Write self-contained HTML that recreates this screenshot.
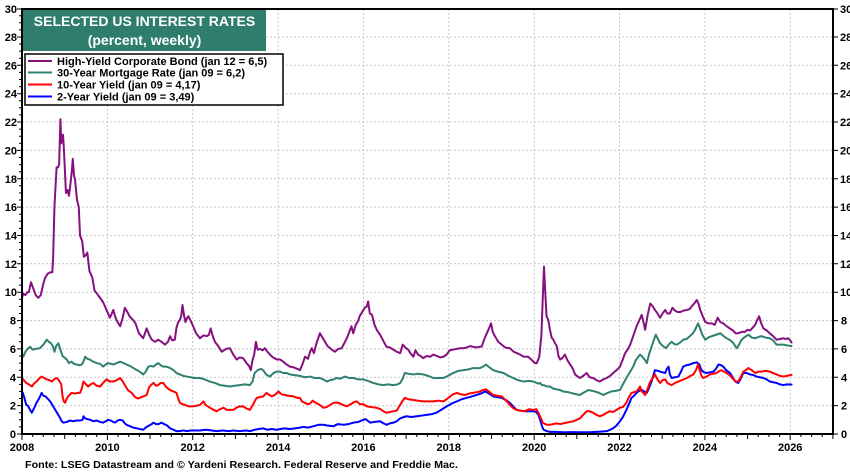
<!DOCTYPE html>
<html><head><meta charset="utf-8"><style>
html,body{margin:0;padding:0;background:#fff;}
svg{display:block;}
text{font-family:"Liberation Sans",Arial,sans-serif;font-weight:bold;}
</style></head><body>
<svg width="850" height="473" viewBox="0 0 850 473" xmlns="http://www.w3.org/2000/svg">
<rect width="850" height="473" fill="#fff"/>
<!-- grid -->
<g stroke="#c8c8c8" stroke-width="1" stroke-dasharray="2,2" fill="none">
<line x1="22" x2="833" y1="405.6" y2="405.6"/><line x1="22" x2="833" y1="377.3" y2="377.3"/><line x1="22" x2="833" y1="348.9" y2="348.9"/><line x1="22" x2="833" y1="320.6" y2="320.6"/><line x1="22" x2="833" y1="292.2" y2="292.2"/><line x1="22" x2="833" y1="263.8" y2="263.8"/><line x1="22" x2="833" y1="235.5" y2="235.5"/><line x1="22" x2="833" y1="207.1" y2="207.1"/><line x1="22" x2="833" y1="178.8" y2="178.8"/><line x1="22" x2="833" y1="150.4" y2="150.4"/><line x1="22" x2="833" y1="122.0" y2="122.0"/><line x1="22" x2="833" y1="93.7" y2="93.7"/><line x1="22" x2="833" y1="65.3" y2="65.3"/><line x1="22" x2="833" y1="37.0" y2="37.0"/>
<line y1="9" y2="434" x1="107.4" x2="107.4"/><line y1="9" y2="434" x1="192.7" x2="192.7"/><line y1="9" y2="434" x1="278.1" x2="278.1"/><line y1="9" y2="434" x1="363.4" x2="363.4"/><line y1="9" y2="434" x1="448.8" x2="448.8"/><line y1="9" y2="434" x1="534.2" x2="534.2"/><line y1="9" y2="434" x1="619.5" x2="619.5"/><line y1="9" y2="434" x1="704.9" x2="704.9"/><line y1="9" y2="434" x1="790.2" x2="790.2"/>
</g>
<!-- series -->
<g transform="matrix(42.68 0 0 -14.18 22 434)" fill="none" stroke-linejoin="round" stroke-linecap="round">
<polyline vector-effect="non-scaling-stroke" stroke="#0000ff" stroke-width="2" points="0,3.0 0.02,2.9 0.06,2.5 0.10,2.05 0.14,2.0 0.19,1.7 0.23,1.5 0.28,1.8 0.34,2.2 0.40,2.5 0.46,2.9 0.50,2.7 0.55,2.65 0.60,2.5 0.66,2.3 0.72,2.0 0.78,1.7 0.84,1.4 0.88,1.2 0.93,0.9 0.97,0.8 1.05,0.85 1.12,0.95 1.20,0.9 1.28,0.95 1.36,0.95 1.42,1.0 1.44,1.25 1.48,1.1 1.53,1.05 1.60,1.0 1.67,0.9 1.75,0.95 1.83,0.85 1.90,0.8 1.96,0.9 2.02,1.0 2.08,0.95 2.14,0.85 2.18,0.8 2.24,0.95 2.30,1.0 2.36,0.95 2.41,0.75 2.45,0.65 2.53,0.55 2.61,0.45 2.69,0.4 2.76,0.35 2.84,0.3 2.92,0.5 2.98,0.6 3.04,0.7 3.08,0.8 3.14,0.7 3.20,0.7 3.27,0.8 3.33,0.7 3.40,0.6 3.47,0.4 3.55,0.3 3.62,0.2 3.70,0.2 3.78,0.25 3.86,0.2 3.95,0.25 4.05,0.25 4.17,0.25 4.30,0.3 4.45,0.25 4.56,0.2 4.70,0.25 4.85,0.2 4.95,0.25 5.10,0.2 5.25,0.25 5.34,0.2 5.45,0.3 5.55,0.35 5.65,0.4 5.75,0.3 5.85,0.35 5.97,0.3 6.05,0.35 6.15,0.4 6.28,0.35 6.40,0.4 6.51,0.45 6.60,0.5 6.70,0.45 6.83,0.55 6.95,0.65 7.06,0.65 7.15,0.6 7.30,0.55 7.40,0.7 7.53,0.65 7.65,0.7 7.76,0.8 7.88,0.85 7.996,1.0 8.05,1.05 8.16,0.8 8.25,0.85 8.39,0.9 8.47,0.75 8.54,0.65 8.62,0.75 8.70,0.8 8.78,0.9 8.86,1.1 8.95,1.2 9.01,1.25 9.12,1.2 9.25,1.25 9.37,1.3 9.48,1.35 9.60,1.4 9.71,1.5 9.82,1.7 9.95,1.95 10.07,2.15 10.19,2.3 10.30,2.45 10.42,2.55 10.54,2.65 10.65,2.75 10.75,2.85 10.85,3.0 10.92,2.9 11.04,2.65 11.14,2.6 11.24,2.55 11.33,2.4 11.43,2.2 11.52,1.9 11.59,1.7 11.67,1.65 11.78,1.6 11.88,1.6 11.98,1.6 12.05,1.55 12.10,1.35 12.15,0.9 12.19,0.5 12.22,0.3 12.30,0.2 12.37,0.15 12.50,0.15 12.70,0.12 12.90,0.13 13.10,0.12 13.30,0.12 13.45,0.15 13.60,0.18 13.70,0.2 13.78,0.3 13.85,0.4 13.93,0.6 14.01,0.9 14.08,1.2 14.16,1.7 14.22,2.1 14.28,2.55 14.34,2.7 14.40,2.9 14.46,3.05 14.52,3.1 14.58,3.0 14.64,2.9 14.70,3.3 14.75,3.7 14.80,4.2 14.83,4.5 14.90,4.45 14.95,4.4 15.01,4.35 15.07,4.3 15.11,4.6 15.15,4.75 15.18,4.2 15.22,3.95 15.30,4.0 15.38,4.05 15.44,4.4 15.49,4.75 15.57,4.85 15.65,4.9 15.73,5.0 15.81,5.05 15.87,4.9 15.92,4.5 15.98,4.35 16.04,4.3 16.12,4.35 16.20,4.4 16.26,4.6 16.32,4.9 16.38,4.85 16.43,4.75 16.50,4.5 16.59,4.3 16.66,3.95 16.71,3.7 16.78,3.6 16.84,3.9 16.90,4.3 16.98,4.3 17.06,4.2 17.14,4.15 17.21,4.05 17.29,4.0 17.37,3.95 17.45,3.85 17.52,3.7 17.60,3.65 17.68,3.6 17.76,3.5 17.84,3.45 17.92,3.5 18.03,3.49"/>
<polyline vector-effect="non-scaling-stroke" stroke="#ff0000" stroke-width="2" points="0,3.95 0.04,3.8 0.10,3.6 0.16,3.5 0.23,3.35 0.28,3.55 0.34,3.7 0.40,3.9 0.46,4.05 0.52,3.95 0.58,3.85 0.64,3.8 0.70,3.7 0.75,3.85 0.81,3.95 0.85,3.85 0.88,3.7 0.92,3.5 0.95,2.65 0.98,2.3 1.01,2.2 1.05,2.5 1.08,2.65 1.16,2.9 1.24,2.85 1.30,2.9 1.36,2.9 1.40,3.2 1.44,3.7 1.50,3.5 1.55,3.35 1.61,3.5 1.67,3.6 1.75,3.4 1.83,3.35 1.90,3.6 1.98,3.85 2.06,3.7 2.14,3.7 2.22,3.8 2.30,3.95 2.36,3.7 2.41,3.45 2.48,3.1 2.57,2.9 2.65,2.6 2.72,2.5 2.76,2.55 2.84,2.65 2.92,2.75 2.98,3.3 3.04,3.5 3.08,3.6 3.14,3.4 3.19,3.45 3.25,3.6 3.31,3.6 3.38,3.3 3.47,3.1 3.55,3.0 3.62,2.9 3.66,2.5 3.70,2.2 3.76,2.1 3.82,2.05 3.90,1.95 4.01,1.95 4.10,2.0 4.17,2.05 4.22,2.2 4.25,2.3 4.30,2.05 4.38,1.9 4.46,1.75 4.56,1.6 4.64,1.75 4.72,1.85 4.80,1.7 4.88,1.7 4.95,1.7 5.02,1.85 5.10,1.95 5.18,1.95 5.26,1.8 5.34,1.7 5.40,2.0 5.45,2.3 5.50,2.55 5.57,2.6 5.65,2.65 5.73,2.9 5.80,2.75 5.85,2.65 5.92,2.75 6.01,3.0 6.08,2.8 6.16,2.75 6.24,2.7 6.36,2.65 6.45,2.55 6.51,2.55 6.56,2.3 6.62,2.2 6.70,2.1 6.75,2.15 6.81,2.35 6.88,2.2 6.95,2.1 7.02,1.95 7.06,1.85 7.14,1.9 7.22,2.05 7.30,2.2 7.41,2.2 7.52,2.05 7.61,1.95 7.70,2.1 7.78,2.25 7.84,2.3 7.92,2.1 8.0,2.1 8.08,1.95 8.18,1.9 8.31,1.85 8.40,1.75 8.47,1.6 8.54,1.5 8.62,1.55 8.70,1.6 8.78,1.65 8.86,2.05 8.92,2.35 8.97,2.55 9.05,2.45 9.17,2.4 9.28,2.35 9.40,2.3 9.52,2.3 9.64,2.3 9.76,2.35 9.87,2.3 9.95,2.45 10.03,2.65 10.10,2.8 10.19,2.9 10.28,2.8 10.38,2.75 10.47,2.85 10.57,2.9 10.65,2.95 10.73,3.0 10.80,3.1 10.87,3.15 10.94,3.0 11.04,2.75 11.14,2.7 11.24,2.65 11.33,2.4 11.43,2.05 11.52,1.8 11.59,1.7 11.67,1.65 11.78,1.6 11.88,1.75 11.98,1.7 12.05,1.75 12.10,1.5 12.16,1.1 12.20,0.8 12.26,0.7 12.30,0.65 12.37,0.65 12.45,0.7 12.53,0.75 12.61,0.7 12.68,0.75 12.76,0.8 12.84,0.85 12.92,0.9 13.00,1.0 13.07,1.1 13.15,1.35 13.23,1.6 13.30,1.6 13.38,1.5 13.46,1.35 13.54,1.25 13.62,1.35 13.70,1.5 13.77,1.6 13.85,1.55 13.93,1.7 14.01,1.85 14.08,1.9 14.16,2.2 14.22,2.6 14.28,2.9 14.34,2.95 14.40,3.0 14.45,3.2 14.48,3.35 14.52,3.0 14.56,2.9 14.60,2.75 14.66,3.2 14.72,3.7 14.78,3.95 14.83,4.2 14.88,3.9 14.95,3.6 15.01,3.8 15.07,3.85 15.12,3.6 15.18,3.5 15.22,3.45 15.30,3.6 15.38,3.7 15.46,3.8 15.58,3.95 15.66,4.1 15.73,4.2 15.79,4.5 15.84,4.9 15.88,4.5 15.92,4.1 15.96,3.95 16.04,4.05 16.12,4.2 16.20,4.25 16.27,4.3 16.34,4.45 16.39,4.5 16.45,4.4 16.51,4.3 16.58,4.15 16.67,3.85 16.73,3.7 16.78,3.7 16.84,4.0 16.90,4.4 16.96,4.5 17.02,4.65 17.10,4.5 17.18,4.3 17.26,4.4 17.33,4.4 17.42,4.45 17.52,4.4 17.60,4.3 17.68,4.2 17.76,4.1 17.84,4.05 17.92,4.1 18.03,4.17"/>
<polyline vector-effect="non-scaling-stroke" stroke="#2e8070" stroke-width="2" points="0,5.7 0.03,5.45 0.08,5.8 0.13,6.0 0.19,6.15 0.25,5.95 0.32,6.0 0.42,6.05 0.5,6.3 0.58,6.65 0.63,6.5 0.68,6.4 0.73,6.15 0.76,5.8 0.80,6.2 0.85,6.4 0.90,5.95 0.95,5.5 1.05,5.25 1.10,5.0 1.16,5.1 1.22,4.95 1.28,4.9 1.35,4.85 1.40,4.9 1.44,5.1 1.48,5.45 1.53,5.3 1.59,5.25 1.67,5.1 1.75,5.0 1.83,4.95 1.90,4.75 1.96,4.9 2.02,5.0 2.08,4.95 2.14,4.9 2.22,5.0 2.30,5.1 2.38,5.0 2.45,4.9 2.53,4.8 2.61,4.65 2.70,4.5 2.78,4.35 2.84,4.2 2.90,4.4 2.96,4.75 3.02,4.8 3.08,4.75 3.14,4.9 3.19,5.0 3.25,4.85 3.31,4.75 3.39,4.75 3.47,4.65 3.55,4.5 3.62,4.3 3.70,4.2 3.78,4.1 3.86,4.05 3.95,4.0 4.05,3.95 4.17,3.95 4.28,3.85 4.40,3.7 4.52,3.6 4.64,3.45 4.75,3.4 4.87,3.35 4.98,3.4 5.10,3.45 5.22,3.5 5.34,3.45 5.40,3.7 5.45,4.3 5.52,4.5 5.60,4.6 5.65,4.5 5.72,4.2 5.81,4.05 5.89,4.3 5.97,4.4 6.05,4.4 6.12,4.3 6.20,4.3 6.28,4.2 6.38,4.15 6.51,4.1 6.63,4.0 6.75,4.05 6.86,3.95 6.98,3.95 7.06,3.85 7.14,3.7 7.22,3.8 7.30,3.85 7.37,3.95 7.45,3.9 7.57,4.05 7.66,3.95 7.76,3.95 7.88,3.85 7.996,3.85 8.1,3.75 8.23,3.6 8.35,3.5 8.46,3.45 8.58,3.5 8.70,3.45 8.80,3.5 8.86,3.6 8.92,3.9 8.97,4.3 9.05,4.25 9.17,4.2 9.28,4.25 9.40,4.2 9.52,4.1 9.64,3.95 9.76,3.95 9.87,3.95 9.98,4.1 10.10,4.3 10.22,4.45 10.34,4.5 10.45,4.55 10.57,4.65 10.73,4.65 10.80,4.75 10.87,4.9 10.95,4.7 11.04,4.5 11.15,4.4 11.28,4.3 11.40,4.1 11.51,3.95 11.62,3.8 11.75,3.7 11.87,3.75 11.98,3.7 12.10,3.55 12.14,3.6 12.18,3.45 12.22,3.45 12.30,3.35 12.37,3.35 12.45,3.2 12.52,3.15 12.61,3.1 12.68,3.0 12.80,2.95 12.92,2.85 13.07,2.75 13.15,2.9 13.27,3.1 13.35,3.05 13.42,3.0 13.52,2.9 13.62,2.75 13.72,2.9 13.81,3.0 13.92,3.05 14.01,3.1 14.08,3.5 14.16,3.95 14.25,4.4 14.32,4.75 14.38,5.2 14.44,5.45 14.48,5.6 14.52,5.5 14.56,5.35 14.60,5.2 14.64,5.0 14.70,5.7 14.75,6.15 14.80,6.6 14.85,7.0 14.90,6.7 14.95,6.4 15.02,6.2 15.09,6.05 15.15,6.3 15.22,6.5 15.28,6.35 15.34,6.3 15.42,6.45 15.49,6.65 15.57,6.7 15.65,6.9 15.72,7.1 15.77,7.35 15.84,7.8 15.88,7.5 15.94,7.0 16.01,6.65 16.08,6.8 16.16,6.9 16.26,7.0 16.36,7.1 16.44,6.9 16.51,6.75 16.60,6.6 16.67,6.4 16.71,6.2 16.75,6.05 16.80,6.3 16.86,6.65 16.94,6.85 17.02,7.0 17.10,6.8 17.18,6.75 17.26,6.85 17.33,6.9 17.42,6.8 17.52,6.75 17.60,6.6 17.68,6.3 17.76,6.3 17.84,6.3 17.92,6.25 18.03,6.2"/>
<polyline vector-effect="non-scaling-stroke" stroke="#85107f" stroke-width="2" points="0,9.6 0.03,9.9 0.08,9.8 0.12,10.0 0.16,10.0 0.21,10.7 0.26,10.3 0.32,9.8 0.38,9.6 0.44,9.8 0.50,10.6 0.54,11.0 0.6,11.3 0.66,11.4 0.71,11.4 0.73,12.5 0.76,16.0 0.81,18.8 0.84,18.8 0.87,19.0 0.90,22.2 0.92,20.5 0.94,21.0 0.96,21.1 0.98,20.2 1.03,17.0 1.07,17.2 1.10,16.8 1.13,17.5 1.17,18.6 1.19,19.4 1.22,18.2 1.24,18.0 1.29,16.5 1.33,16.0 1.36,14.0 1.41,13.6 1.45,12.5 1.49,12.6 1.53,12.8 1.58,11.5 1.61,11.3 1.65,11.0 1.70,10.1 1.73,10.0 1.83,9.6 1.9,9.3 1.98,8.75 2.06,8.2 2.14,8.75 2.18,8.3 2.22,8.0 2.30,7.6 2.36,8.2 2.41,8.9 2.47,8.6 2.52,8.3 2.60,8.05 2.66,7.8 2.74,7.1 2.84,6.75 2.92,7.45 2.98,7.0 3.04,6.65 3.12,6.5 3.19,6.65 3.27,6.5 3.35,6.3 3.42,6.5 3.47,6.9 3.52,6.6 3.58,6.65 3.62,7.5 3.66,7.9 3.70,8.05 3.73,8.3 3.76,9.1 3.80,8.3 3.83,7.9 3.87,8.2 3.90,8.3 3.95,8.0 4.01,7.6 4.08,7.1 4.17,6.75 4.25,6.95 4.33,6.9 4.38,7.0 4.42,7.45 4.47,6.9 4.52,6.5 4.6,6.2 4.68,5.8 4.78,6.0 4.87,6.05 4.95,5.6 5.03,5.25 5.1,5.4 5.18,5.35 5.26,5.0 5.32,4.8 5.36,4.5 5.40,5.2 5.44,5.6 5.48,6.5 5.52,5.95 5.58,6.0 5.64,5.9 5.69,6.05 5.75,5.8 5.81,5.6 5.88,5.4 5.97,5.25 6.05,5.25 6.12,5.1 6.20,4.9 6.28,4.75 6.36,4.7 6.45,4.6 6.51,4.5 6.57,4.9 6.63,5.45 6.70,5.3 6.75,5.8 6.79,6.05 6.84,5.7 6.90,6.4 6.98,7.1 7.04,6.8 7.10,6.5 7.16,6.2 7.22,6.05 7.28,5.9 7.33,5.8 7.41,6.0 7.49,6.05 7.55,6.4 7.61,6.75 7.67,7.2 7.72,7.6 7.76,7.1 7.82,7.7 7.88,8.0 7.91,8.3 7.97,8.6 8.03,8.9 8.08,9.0 8.11,9.35 8.15,8.5 8.20,8.4 8.26,7.7 8.32,7.3 8.39,7.0 8.46,6.6 8.54,6.15 8.62,6.1 8.70,5.95 8.78,5.8 8.86,5.7 8.92,6.3 8.98,6.1 9.05,5.95 9.10,5.7 9.17,5.45 9.22,5.9 9.28,5.6 9.34,5.5 9.40,5.35 9.48,5.5 9.56,5.45 9.64,5.6 9.72,5.5 9.80,5.4 9.87,5.45 9.95,5.6 10.02,5.9 10.10,5.95 10.18,6.0 10.26,6.05 10.34,6.05 10.42,6.1 10.50,6.2 10.57,6.15 10.65,6.1 10.72,6.15 10.77,6.15 10.82,6.6 10.89,7.1 10.95,7.5 10.99,7.8 11.03,7.2 11.08,6.9 11.16,6.5 11.24,6.3 11.32,6.1 11.43,6.05 11.52,5.8 11.60,5.7 11.67,5.6 11.76,5.45 11.86,5.45 11.95,5.2 12.02,5.0 12.06,5.0 12.12,5.45 12.17,7.0 12.20,9.45 12.23,11.8 12.26,10.0 12.29,8.3 12.33,8.05 12.37,7.35 12.41,6.8 12.45,6.65 12.49,6.4 12.53,6.2 12.57,5.5 12.61,5.25 12.66,5.35 12.72,5.6 12.78,5.2 12.84,4.9 12.88,4.75 12.92,4.5 12.96,4.2 13.02,4.05 13.07,3.95 13.15,4.1 13.23,4.3 13.30,4.0 13.38,3.95 13.46,3.8 13.54,3.7 13.62,3.85 13.70,3.95 13.78,4.1 13.85,4.3 13.93,4.5 14.01,4.75 14.07,5.2 14.13,5.7 14.20,6.0 14.25,6.3 14.32,6.9 14.40,7.6 14.46,8.0 14.52,8.4 14.56,7.9 14.60,7.35 14.66,8.4 14.72,9.2 14.78,9.0 14.83,8.75 14.89,8.5 14.95,8.2 15.01,8.5 15.07,8.75 15.12,8.5 15.18,8.5 15.24,8.9 15.30,8.7 15.36,8.6 15.42,8.6 15.50,8.7 15.58,8.75 15.64,8.8 15.69,9.0 15.75,9.2 15.81,9.45 15.85,9.2 15.89,8.75 15.95,8.3 16.01,7.9 16.08,7.8 16.16,7.8 16.23,7.7 16.30,8.2 16.36,7.9 16.43,7.8 16.51,7.6 16.58,7.45 16.66,7.3 16.72,7.1 16.78,7.1 16.86,7.2 16.94,7.2 17.00,7.35 17.06,7.3 17.12,7.5 17.18,7.7 17.22,8.0 17.27,8.3 17.32,7.8 17.37,7.45 17.45,7.3 17.52,7.1 17.60,6.9 17.68,6.65 17.76,6.7 17.84,6.75 17.90,6.7 17.95,6.75 18.0,6.6 18.03,6.45"/>
</g>
<!-- frame -->
<rect x="22" y="9" width="811" height="425" fill="none" stroke="#000" stroke-width="2"/>
<!-- left ticks -->
<g stroke="#000" stroke-width="1">
<path d="M22 434H17M22 405.6H17M22 377.3H17M22 348.9H17M22 320.6H17M22 292.2H17M22 263.8H17M22 235.5H17M22 207.1H17M22 178.8H17M22 150.4H17M22 122H17M22 93.7H17M22 65.3H17M22 37H17M22 9H17"/>
<path d="M22 426.9H19M22 419.8H19M22 412.7H19M22 398.5H19M22 391.4H19M22 384.4H19M22 370.2H19M22 363.1H19M22 356H19M22 341.8H19M22 334.7H19M22 327.7H19M22 313.5H19M22 306.4H19M22 299.3H19M22 285.1H19M22 278H19M22 270.9H19M22 256.7H19M22 249.6H19M22 242.5H19M22 228.4H19M22 221.3H19M22 214.2H19M22 200H19M22 192.9H19M22 185.8H19M22 171.7H19M22 164.6H19M22 157.5H19M22 143.3H19M22 136.2H19M22 129.1H19M22 114.9H19M22 107.8H19M22 100.8H19M22 86.6H19M22 79.5H19M22 72.4H19M22 58.2H19M22 51.1H19M22 44H19M22 29.9H19M22 22.8H19M22 15.7H19"/>
<path d="M833 434H838M833 405.6H838M833 377.3H838M833 348.9H838M833 320.6H838M833 292.2H838M833 263.8H838M833 235.5H838M833 207.1H838M833 178.8H838M833 150.4H838M833 122H838M833 93.7H838M833 65.3H838M833 37H838M833 9H838"/>
<path d="M22 434V440M64.7 434V439M107.4 434V440M150 434V439M192.7 434V440M235.4 434V439M278.1 434V440M320.8 434V439M363.4 434V440M406.1 434V439M448.8 434V440M491.5 434V439M534.2 434V440M576.8 434V439M619.5 434V440M662.2 434V439M704.9 434V440M747.6 434V439M790.2 434V440M832.9 434V439"/>
<path d="M32.7 434V437M43.3 434V437M54 434V437M75.4 434V437M86 434V437M96.7 434V437M118 434V437M128.7 434V437M139.4 434V437M160.7 434V437M171.4 434V437M182 434V437M203.4 434V437M214 434V437M224.7 434V437M246 434V437M256.7 434V437M267.4 434V437M288.8 434V437M299.4 434V437M310.1 434V437M331.4 434V437M342.1 434V437M352.8 434V437M374.1 434V437M384.8 434V437M395.4 434V437M416.8 434V437M427.4 434V437M438.1 434V437M459.5 434V437M470.1 434V437M480.8 434V437M502.2 434V437M512.8 434V437M523.5 434V437M544.8 434V437M555.5 434V437M566.2 434V437M587.5 434V437M598.2 434V437M608.8 434V437M630.2 434V437M640.8 434V437M651.5 434V437M672.9 434V437M683.5 434V437M694.2 434V437M715.6 434V437M726.2 434V437M736.9 434V437M758.2 434V437M768.9 434V437M779.6 434V437M800.9 434V437M811.6 434V437M822.2 434V437"/>
</g>
<!-- left labels -->
<g font-size="11" text-anchor="end" fill="#000">
<text x="16" y="438">0</text><text x="16" y="409.6">2</text><text x="16" y="381.3">4</text><text x="16" y="352.9">6</text><text x="16" y="324.6">8</text><text x="17" y="296.2">10</text><text x="17" y="267.8">12</text><text x="17" y="239.5">14</text><text x="17" y="211.1">16</text><text x="17" y="182.8">18</text><text x="17" y="154.4">20</text><text x="17" y="126">22</text><text x="17" y="97.7">24</text><text x="17" y="69.3">26</text><text x="17" y="41">28</text><text x="17" y="13">30</text>
</g>
<g font-size="11" text-anchor="start" fill="#000">
<text x="841" y="438">0</text><text x="841" y="409.6">2</text><text x="841" y="381.3">4</text><text x="841" y="352.9">6</text><text x="841" y="324.6">8</text><text x="840" y="296.2">10</text><text x="840" y="267.8">12</text><text x="840" y="239.5">14</text><text x="840" y="211.1">16</text><text x="840" y="182.8">18</text><text x="840" y="154.4">20</text><text x="840" y="126">22</text><text x="840" y="97.7">24</text><text x="840" y="69.3">26</text><text x="840" y="41">28</text><text x="840" y="13">30</text>
</g>
<!-- x labels -->
<g font-size="11" text-anchor="middle" fill="#000">
<text x="22" y="451">2008</text><text x="107.4" y="451">2010</text><text x="192.7" y="451">2012</text><text x="278.1" y="451">2014</text><text x="363.4" y="451">2016</text><text x="448.8" y="451">2018</text><text x="534.2" y="451">2020</text><text x="619.5" y="451">2022</text><text x="704.9" y="451">2024</text><text x="790.2" y="451">2026</text>
</g>
<text x="25" y="468" font-size="10.5" fill="#000" textLength="433" lengthAdjust="spacingAndGlyphs">Fonte: LSEG Datastream and © Yardeni Research. Federal Reserve and Freddie Mac.</text>
<!-- title box -->
<rect x="23" y="10" width="243" height="41" fill="#2e7d6d"/>
<text x="144.5" y="26" font-size="14" fill="#fff" text-anchor="middle">SELECTED US INTEREST RATES</text>
<text x="144.5" y="45" font-size="14" fill="#fff" text-anchor="middle">(percent, weekly)</text>
<!-- legend -->
<rect x="25" y="54" width="258" height="51" fill="#fff" stroke="#000" stroke-width="1.5"/>
<g stroke-width="2">
<line x1="28" x2="52" y1="61" y2="61" stroke="#85107f"/>
<line x1="28" x2="52" y1="72.5" y2="72.5" stroke="#2e8070"/>
<line x1="28" x2="52" y1="84.5" y2="84.5" stroke="#ff0000"/>
<line x1="28" x2="52" y1="96.5" y2="96.5" stroke="#0000ff"/>
</g>
<g font-size="11" fill="#000">
<text x="57" y="65">High-Yield Corporate Bond (jan 12 = 6,5)</text>
<text x="57" y="76.5">30-Year Mortgage Rate (jan 09 = 6,2)</text>
<text x="57" y="88.5">10-Year Yield (jan 09 = 4,17)</text>
<text x="57" y="100.5">2-Year Yield (jan 09 = 3,49)</text>
</g>
</svg>
</body></html>
